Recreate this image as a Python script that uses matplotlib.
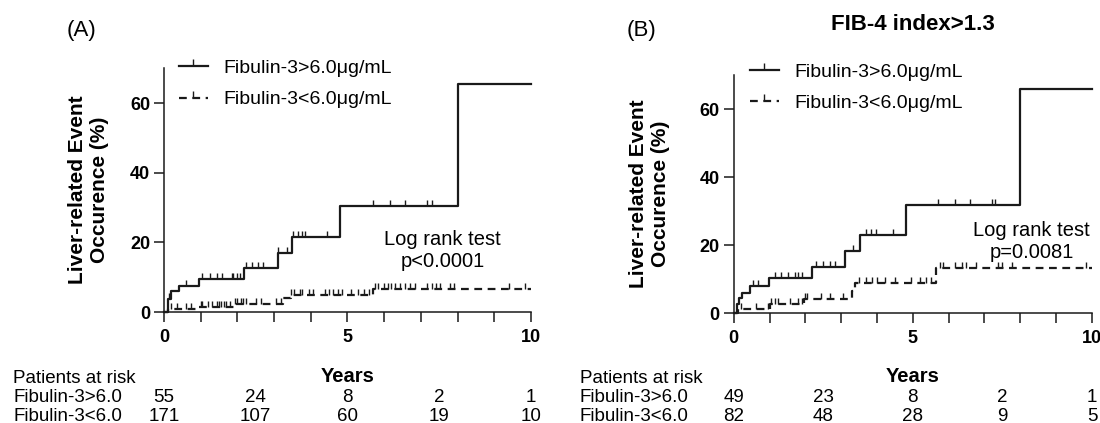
'''
Cumulative incidence of liver-related events by Fibulin-3 level
(A) all patients, (B) FIB-4 index>1.3
'''
import numpy as np
import matplotlib
matplotlib.use('Agg')
from matplotlib import pyplot as plt
from matplotlib.lines import Line2D
from matplotlib.ticker import MultipleLocator
from matplotlib.transforms import blended_transform_factory

plt.rcParams['font.family'] = ['Liberation Sans', 'DejaVu Sans']

# ---- panel A: event curves (years, %)
a_hi_t = [0, 0.1, 0.19, 0.42, 0.95, 2.17, 3.1, 3.5, 4.8, 8.0, 10]
a_hi_y = [0, 3.8, 6.0, 7.4, 9.6, 12.5, 17.0, 21.6, 30.4, 65.4, 65.4]
a_hi_cens = [0.14, 0.6, 1.03, 1.25, 1.44, 1.57, 1.85, 1.89, 1.98, 2.07, 2.25, 2.39,
             2.57, 2.71, 3.12, 3.35, 3.53, 3.66, 3.75, 3.85, 4.44, 5.69, 6.16, 6.57,
             7.16, 7.3]
a_lo_t = [0, 0.12, 0.95, 1.9, 3.25, 3.45, 5.69, 10]
a_lo_y = [0, 0.8, 1.5, 2.2, 3.9, 4.9, 6.5, 6.5]
a_lo_cens = [0.2, 0.35, 0.6, 0.75, 1.0, 1.05, 1.2, 1.3, 1.45, 1.5, 1.55, 1.65, 1.7,
             1.8, 1.95, 2.0, 2.1, 2.15, 2.25, 2.5, 2.65, 3.05, 3.2, 3.45, 3.55, 3.7,
             3.75, 3.95, 4.05, 4.4, 4.5, 4.6, 4.75, 4.85, 5.1, 5.3, 5.45, 5.6, 5.75,
             5.83, 6.0, 6.1, 6.2, 6.3, 6.44, 6.57, 6.7, 6.85, 7.16, 7.3, 7.4, 7.53,
             7.8, 7.9, 9.4, 9.83]

# ---- panel B: FIB-4 index>1.3
b_hi_t = [0, 0.08, 0.15, 0.23, 0.45, 0.99, 2.19, 3.1, 3.52, 4.8, 8.0, 10]
b_hi_y = [0, 2.7, 4.4, 6.0, 8.0, 10.4, 13.7, 18.3, 23.1, 31.7, 66.0, 66.0]
b_hi_cens = [0.55, 0.68, 1.14, 1.33, 1.52, 1.7, 1.8, 1.9, 2.3, 2.5, 2.68, 2.82, 3.33,
             3.7, 3.84, 3.98, 4.45, 5.71, 6.17, 6.59, 7.2, 7.29]
b_lo_t = [0, 0.12, 1.0, 1.95, 3.3, 3.38, 5.66, 10]
b_lo_y = [0, 1.4, 2.8, 4.3, 6.5, 8.9, 13.2, 13.2]
b_lo_cens = [0.2, 0.63, 0.96, 1.05, 1.14, 1.24, 1.56, 1.8, 1.9, 1.98, 2.05, 2.45,
             2.68, 3.05, 3.5, 3.7, 3.85, 4.0, 4.22, 4.5, 4.96, 5.2, 5.38, 5.52, 5.75,
             5.85, 6.18, 6.37, 6.47, 6.76, 7.38, 7.48, 7.77, 9.83]

# ---- numbers at risk
risk_times = [0, 2.5, 5, 7.5, 10]
a_risk_hi = [55, 24, 8, 2, 1]
a_risk_lo = [171, 107, 60, 19, 10]
b_risk_hi = [49, 23, 8, 2, 1]
b_risk_lo = [82, 48, 28, 9, 5]

group_labels = ['Fibulin-3>6.0μg/mL', 'Fibulin-3<6.0μg/mL']
row_labels = ['Fibulin-3>6.0', 'Fibulin-3<6.0']
p_texts = ['Log rank test\np<0.0001', 'Log rank test\np=0.0081']

LW = 1.6
DASH = (0, (3.5, 2.5))
INK = '#1a1a1a'


def step_at(t, y, c):
    '''y value of the step curve at censor times c'''
    idx = np.searchsorted(t, c, side='right') - 1
    return np.asarray(y)[idx]


def draw_curve(ax, t, y, cens, ls):
    ax.step(t, y, where='post', color=INK, lw=LW, ls=ls, clip_on=False)
    ax.plot(cens, step_at(t, y, cens), ls='none', marker=2, markersize=4.5,
            mew=1.0, color=INK, clip_on=False)


def style_axes(ax):
    ax.set_xlim(0, 10)
    ax.set_ylim(0, 70)
    ax.set_xticks([0, 5, 10])
    ax.xaxis.set_minor_locator(MultipleLocator(1))
    ax.set_yticks([0, 20, 40, 60])
    for s in ['top', 'right']:
        ax.spines[s].set_visible(False)
    for s in ['left', 'bottom']:
        ax.spines[s].set_linewidth(1.1)
        ax.spines[s].set_color(INK)
    ax.tick_params(which='both', direction='out', length=7, width=1.1, color=INK)
    ax.tick_params(axis='x', which='both', pad=5)
    ax.tick_params(axis='y', pad=3)
    for lab in ax.get_xticklabels() + ax.get_yticklabels():
        lab.set_fontweight('bold')
        lab.set_fontsize(13)
    ax.set_ylabel('Liver-related Event\nOccurence (%)', fontsize=15,
                  fontweight='bold', linespacing=1.2)
    ax.set_xlabel('Years', fontsize=14.5, fontweight='bold')


def draw_legend(ax, anchor):
    handles = [Line2D([], [], color=INK, lw=LW, ls='-', marker=2,
                      markersize=5, mew=1.0),
               Line2D([], [], color=INK, lw=LW, ls=DASH, marker=2,
                      markersize=5, mew=1.0)]
    ax.legend(handles, group_labels, loc='upper left', bbox_to_anchor=anchor,
              frameon=False, fontsize=14, handlelength=1.5, handletextpad=0.8,
              labelspacing=0.7, borderpad=0, borderaxespad=0, numpoints=1)


def draw_risk(fig, ax, x_left, hi, lo):
    trans = blended_transform_factory(ax.transData, fig.transFigure)
    fig.text(x_left, 0.106, 'Patients at risk', fontsize=13.5, va='center')
    for yy, lab, vals in [(0.06, row_labels[0], hi), (0.016, row_labels[1], lo)]:
        fig.text(x_left, yy, lab, fontsize=13.5, va='center')
        for t, v in zip(risk_times, vals):
            ax.text(t, yy, str(v), transform=trans, fontsize=13.5,
                    ha='center', va='center')


fig = plt.figure(figsize=(11, 4.23), dpi=100)
ax_a = fig.add_axes([0.149, 0.2624, 0.3337, 0.5764])
ax_b = fig.add_axes([0.667, 0.2593, 0.3257, 0.5634])

draw_curve(ax_a, a_hi_t, a_hi_y, a_hi_cens, '-')
draw_curve(ax_a, a_lo_t, a_lo_y, a_lo_cens, DASH)
draw_curve(ax_b, b_hi_t, b_hi_y, b_hi_cens, '-')
draw_curve(ax_b, b_lo_t, b_lo_y, b_lo_cens, DASH)

for ax in [ax_a, ax_b]:
    style_axes(ax)
ax_a.yaxis.set_label_coords(-0.15, 0.5)
ax_b.yaxis.set_label_coords(-0.178, 0.5)
ax_a.xaxis.set_label_coords(0.5, -0.225)
ax_b.xaxis.set_label_coords(0.5, -0.225)

draw_legend(ax_a, (0.04, 1.035))
draw_legend(ax_b, (0.045, 1.05))

ax_a.text(7.6, 17.8, p_texts[0], ha='center', va='center', fontsize=14.5,
          linespacing=1.2)
ax_b.text(8.32, 21.2, p_texts[1], ha='center', va='center', fontsize=14.5,
          linespacing=1.2)

fig.text(0.074, 0.929, '(A)', fontsize=16, ha='center', va='center')
fig.text(0.583, 0.929, '(B)', fontsize=16, ha='center', va='center')
fig.text(0.83, 0.941, 'FIB-4 index>1.3', fontsize=16, fontweight='bold',
         ha='center', va='center')

draw_risk(fig, ax_a, 0.012, a_risk_hi, a_risk_lo)
draw_risk(fig, ax_b, 0.527, b_risk_hi, b_risk_lo)

fig.savefig('out.png', dpi=100)
